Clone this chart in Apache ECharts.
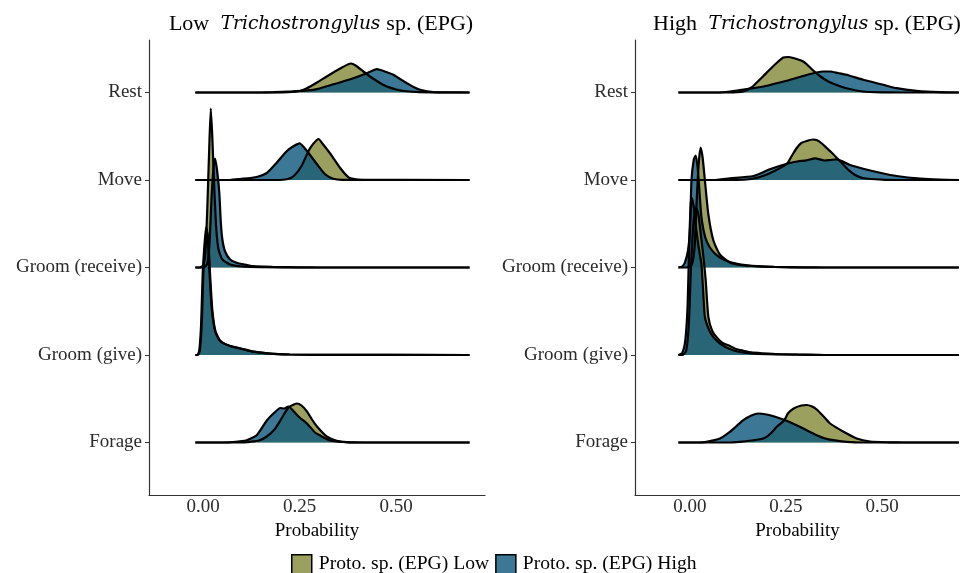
<!DOCTYPE html>
<html>
<head>
<meta charset="utf-8">
<script src="https://cdn.jsdelivr.net/npm/echarts@6/dist/echarts.min.js"></script>
<style>
  html, body { margin: 0; padding: 0; background: #fff; }
  #chart { width: 960px; height: 573px; }
</style>
</head>
<body>
<div id="chart"></div>
<script>
// rows, bottom to top (y = 1..5)
var rowNames = ['Forage', 'Groom (give)', 'Groom (receive)', 'Move', 'Rest'];
var groupNames = ['Proto. sp. (EPG) Low', 'Proto. sp. (EPG) High'];
var xTicks = [0, 0.25, 0.5];

// ridge heights: [probability, height]
// panel "Low Trichostrongylus"
var lowTrich_protoLow_rest = [[-0.02,0],[0.19,0],[0.22,0.3],[0.25,1.5],[0.269,4.3],[0.295,10],[0.32,16],[0.355,24],[0.383,29],[0.395,27],[0.415,21],[0.44,14],[0.47,7],[0.50,3],[0.52,1.5],[0.56,0.3],[0.69,0]];
var lowTrich_protoHigh_rest = [[-0.02,0],[0.15,0],[0.182,0.3],[0.23,1.2],[0.286,2.7],[0.338,8.3],[0.389,14.3],[0.424,19.3],[0.45,23.3],[0.476,20.3],[0.493,17.7],[0.51,13.5],[0.528,9.3],[0.545,5.5],[0.562,2.7],[0.597,0.4],[0.64,0.1],[0.69,0]];
var lowTrich_protoLow_move = [[-0.02,0],[0.19,0],[0.217,0.7],[0.235,4],[0.255,14],[0.273,29],[0.285,36],[0.299,41],[0.31,36],[0.33,26],[0.355,12],[0.377,2.5],[0.40,0.3],[0.42,0],[0.69,0]];
var lowTrich_protoHigh_move = [[-0.02,0],[0.07,0],[0.096,1],[0.139,3],[0.165,7],[0.19,17],[0.217,29],[0.235,34],[0.25,36.7],[0.269,29],[0.295,15.7],[0.316,5.7],[0.337,1.3],[0.36,0.2],[0.69,0]];
var lowTrich_protoLow_receive = [[-0.02,0],[-0.01,0],[0.0,2],[0.006,15],[0.011,60],[0.016,120],[0.02,159],[0.024,130],[0.029,80],[0.034,40],[0.04,18],[0.05,8],[0.07,3],[0.1,1],[0.15,0.3],[0.25,0],[0.69,0]];
var lowTrich_protoHigh_receive = [[-0.02,0],[0.0,0],[0.01,3],[0.016,20],[0.022,70],[0.027,100],[0.031,109],[0.036,98],[0.042,75],[0.046,45],[0.05,28],[0.057,16],[0.07,8],[0.085,5],[0.1,3.5],[0.13,1.3],[0.18,0.6],[0.25,0.2],[0.3,0],[0.69,0]];
var lowTrich_protoLow_give = [[-0.02,0],[-0.015,0],[-0.01,4],[-0.005,31],[-0.001,81],[0.004,112],[0.008,128],[0.012,118],[0.017,80],[0.022,48],[0.031,24],[0.044,14],[0.07,9],[0.096,6.7],[0.13,3.3],[0.174,1.3],[0.225,0.5],[0.3,0.1],[0.69,0]];
var lowTrich_protoHigh_give = [[-0.02,0],[-0.013,0],[-0.008,5],[-0.003,35],[0.001,85],[0.006,115],[0.01,124],[0.014,112],[0.019,75],[0.024,45],[0.032,24],[0.045,14],[0.07,9],[0.096,6.5],[0.13,3.3],[0.174,1.3],[0.225,0.5],[0.3,0.1],[0.69,0]];
var lowTrich_protoLow_forage = [[-0.02,0],[0.1,0],[0.122,0.7],[0.145,2],[0.165,6],[0.185,13],[0.2,22],[0.221,35],[0.235,38],[0.243,39],[0.255,37],[0.269,31],[0.282,23],[0.295,16],[0.32,6],[0.346,1.7],[0.372,0.3],[0.42,0],[0.69,0]];
var lowTrich_protoHigh_forage = [[-0.02,0],[0.05,0],[0.078,0.5],[0.113,2.3],[0.139,7.3],[0.165,22],[0.185,30],[0.2,34.5],[0.21,34],[0.221,36],[0.235,31],[0.25,25],[0.269,19],[0.29,10],[0.303,7],[0.329,2],[0.36,0.5],[0.4,0],[0.69,0]];

// panel "High Trichostrongylus"
var highTrich_protoLow_rest = [[-0.03,0],[0.1,0],[0.139,1],[0.16,5],[0.174,10],[0.19,16],[0.208,23],[0.23,31],[0.243,35],[0.255,35.5],[0.269,34.5],[0.295,31],[0.31,26],[0.321,22],[0.34,16],[0.36,11],[0.382,7.5],[0.41,4],[0.45,1],[0.5,0.2],[0.55,0],[0.70,0]];
var highTrich_protoHigh_rest = [[-0.03,0],[0.07,0],[0.104,1],[0.148,3.3],[0.191,6],[0.252,11.7],[0.29,16],[0.321,19.3],[0.345,21],[0.365,21],[0.385,19.5],[0.408,17.7],[0.451,12.7],[0.503,7.7],[0.538,4.3],[0.59,1.7],[0.65,0.3],[0.70,0]];
var highTrich_protoLow_move = [[-0.03,0],[0.12,0],[0.16,1],[0.19,4],[0.22,9],[0.252,16],[0.265,24],[0.278,32],[0.29,37],[0.304,39],[0.32,40.5],[0.33,40],[0.345,36],[0.356,32],[0.37,27],[0.386,20.7],[0.41,11],[0.43,5],[0.45,2],[0.5,0.3],[0.55,0],[0.70,0]];
var highTrich_protoHigh_move = [[-0.03,0],[0.06,0],[0.104,1.7],[0.165,4],[0.208,10.7],[0.252,16.3],[0.28,18.5],[0.304,19.7],[0.326,21.7],[0.35,19.5],[0.365,20],[0.382,20.7],[0.417,15],[0.451,11.3],[0.495,7.3],[0.538,4],[0.6,1.3],[0.65,0.3],[0.70,0]];
var highTrich_protoLow_receive = [[-0.03,0],[-0.01,0],[0.005,3],[0.012,20],[0.018,70],[0.023,105],[0.028,120],[0.033,110],[0.039,87],[0.048,53],[0.061,27],[0.078,13],[0.104,5],[0.13,2.5],[0.16,1.5],[0.22,0.5],[0.3,0],[0.70,0]];
var highTrich_protoHigh_receive = [[-0.03,0],[-0.02,1],[-0.013,5],[-0.005,17],[0.0,37],[0.004,87],[0.01,108],[0.015,112],[0.02,100],[0.025,75],[0.03,50],[0.04,30],[0.052,20],[0.065,14],[0.078,10],[0.1,6],[0.12,4],[0.15,2.2],[0.174,1.3],[0.22,0.6],[0.3,0.2],[0.35,0],[0.70,0]];
var highTrich_protoLow_give = [[-0.03,0],[-0.02,0],[-0.01,4],[-0.003,30],[0.003,90],[0.01,135],[0.016,148],[0.022,140],[0.03,115],[0.036,95],[0.041,75],[0.048,38],[0.058,24],[0.07,17.6],[0.085,12],[0.104,9],[0.12,6],[0.139,4.3],[0.16,2.6],[0.19,1.7],[0.23,0.8],[0.3,0.3],[0.35,0],[0.70,0]];
var highTrich_protoHigh_give = [[-0.03,0],[-0.02,2],[-0.012,15],[-0.006,50],[-0.002,110],[0.002,150],[0.005,157],[0.01,148],[0.015,130],[0.02,115],[0.026,100],[0.03,91],[0.035,60],[0.039,38],[0.05,25],[0.061,18],[0.08,11],[0.104,6],[0.13,3],[0.16,1.5],[0.2,0.8],[0.28,0.3],[0.35,0],[0.70,0]];
var highTrich_protoLow_forage = [[-0.03,0],[0.1,0],[0.13,0.7],[0.16,2],[0.191,4],[0.21,9],[0.226,15.7],[0.245,22],[0.255,29],[0.27,34],[0.29,37],[0.304,37.5],[0.318,36],[0.33,33],[0.348,26],[0.365,19],[0.4,10.7],[0.434,4],[0.469,1],[0.52,0.2],[0.56,0],[0.70,0]];
var highTrich_protoHigh_forage = [[-0.03,0],[0.02,0],[0.043,0.7],[0.078,4],[0.104,10.7],[0.12,16],[0.139,22.3],[0.16,27],[0.178,29],[0.2,28],[0.22,26],[0.243,23],[0.265,19.5],[0.286,15.7],[0.31,11],[0.33,7.3],[0.35,4.3],[0.373,2.3],[0.408,0.7],[0.45,0],[0.70,0]];

var fills = ['#828837', '#0b567c'];      // drawn at 0.8 opacity
var legendFills = ['#9ba05f', '#3c7896'];
var heightScale = 1 / 87.5;             // picture heights -> row units
var font = 'Liberation Serif';
var textGrey = '#2b2b2b';

// per panel, rows from top to bottom so lower ridges sit on top
var panels = [
    [[4, lowTrich_protoLow_rest, lowTrich_protoHigh_rest],
     [3, lowTrich_protoLow_move, lowTrich_protoHigh_move],
     [2, lowTrich_protoLow_receive, lowTrich_protoHigh_receive],
     [1, lowTrich_protoLow_give, lowTrich_protoHigh_give],
     [0, lowTrich_protoLow_forage, lowTrich_protoHigh_forage]],
    [[4, highTrich_protoLow_rest, highTrich_protoHigh_rest],
     [3, highTrich_protoLow_move, highTrich_protoHigh_move],
     [2, highTrich_protoLow_receive, highTrich_protoHigh_receive],
     [1, highTrich_protoLow_give, highTrich_protoHigh_give],
     [0, highTrich_protoLow_forage, highTrich_protoHigh_forage]]
];

function ridge(curve, row, group, panel) {
    var base = row + 1;
    return {
        type: 'line',
        name: groupNames[group],
        xAxisIndex: panel,
        yAxisIndex: panel,
        data: curve.map(function (p) { return [p[0], base + p[1] * heightScale]; }),
        symbol: 'none',
        smooth: 0.2,
        silent: true,
        itemStyle: {color: legendFills[group]},
        lineStyle: {color: '#000', width: 2.2},
        areaStyle: {color: fills[group], opacity: 0.8, origin: base}
    };
}

var series = [];
panels.forEach(function (rows, p) {
    rows.forEach(function (r) {
        series.push(ridge(r[1], r[0], 0, p));
        series.push(ridge(r[2], r[0], 1, p));
    });
});

function xAxis(gridIndex, min, max) {
    return {
        type: 'value', gridIndex: gridIndex, min: min, max: max,
        name: 'Probability', nameLocation: 'middle', nameGap: 19,
        nameTextStyle: {fontFamily: font, fontSize: 19, color: '#000'},
        axisLine: {onZero: false, lineStyle: {color: '#333', width: 1.2}},
        axisTick: {show: false},
        splitLine: {show: false},
        axisLabel: {
            customValues: xTicks, margin: 3,
            fontFamily: font, fontSize: 19, color: textGrey,
            formatter: function (v) { return v.toFixed(2); }
        }
    };
}

function yAxis(gridIndex) {
    return {
        type: 'value', gridIndex: gridIndex, min: 0.4, max: 5.6,
        axisLine: {show: true, onZero: false, lineStyle: {color: '#333', width: 1.2}},
        axisTick: {show: true, customValues: [1, 2, 3, 4, 5], length: 4, lineStyle: {color: '#333'}},
        splitLine: {show: false},
        axisLabel: {
            customValues: [1, 2, 3, 4, 5], margin: 7,
            fontFamily: font, fontSize: 19, color: textGrey,
            formatter: function (v) { return rowNames[Math.round(v) - 1]; }
        }
    };
}

function title(pre, centre) {
    return {
        text: pre + ' {i| Trichostrongylus }sp. (EPG)',
        left: centre, top: 8, textAlign: 'center',
        textStyle: {
            fontFamily: font, fontSize: 22, fontWeight: 'normal', color: '#000',
            rich: {i: {fontFamily: 'DejaVu Serif', fontStyle: 'italic', fontSize: 18.6, color: '#000'}}
        }
    };
}

var chart = echarts.init(document.getElementById('chart'));
chart.setOption({
    animation: false,
    backgroundColor: '#fff',
    title: [title('Low', 316), title('High', 802)],
    grid: [
        {left: 149, top: 40, width: 336, height: 455},
        {left: 635, top: 40, width: 325, height: 455}
    ],
    xAxis: [xAxis(0, -0.14, 0.73), xAxis(1, -0.143, 0.703)],
    yAxis: [yAxis(0), yAxis(1)],
    legend: {
        left: 286, top: 549,
        icon: 'rect', itemWidth: 20, itemHeight: 19, itemGap: 6,
        selectedMode: false,
        textStyle: {fontFamily: font, fontSize: 19.6, color: '#000', padding: [0, 0, 0, 2]},
        data: groupNames.map(function (n, i) {
            return {name: n, itemStyle: {color: legendFills[i], borderColor: '#000', borderWidth: 1.5}};
        })
    },
    series: series
});
</script>
</body>
</html>
